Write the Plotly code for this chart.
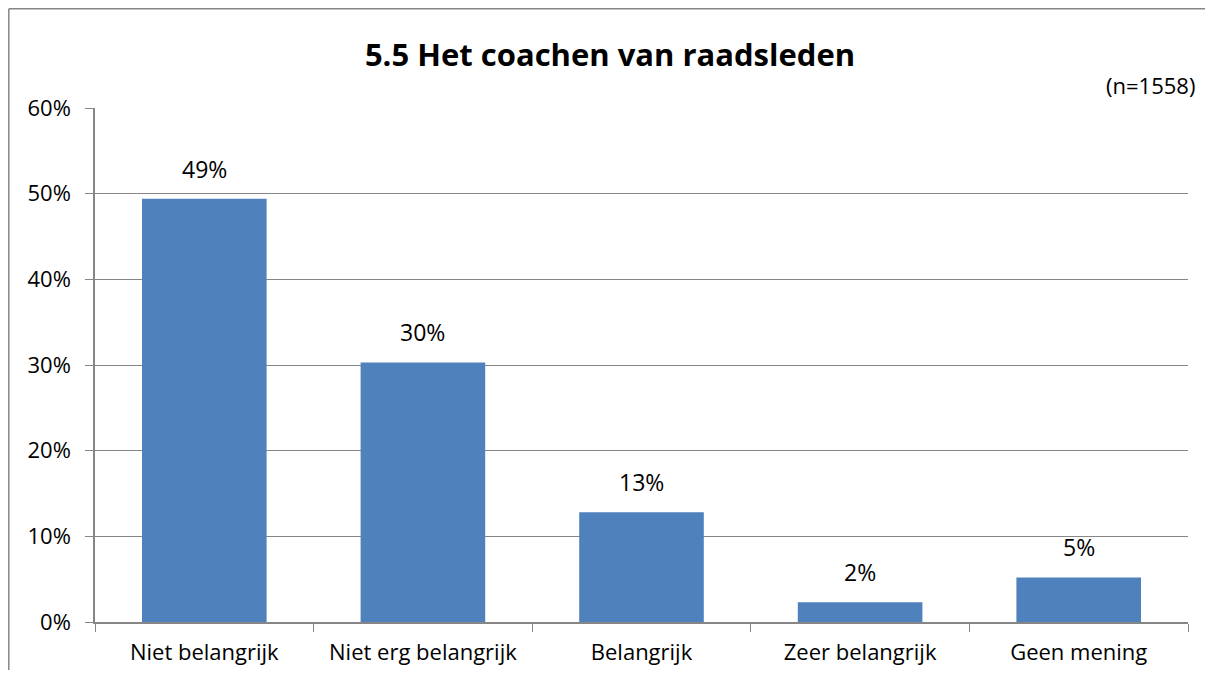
import plotly.graph_objects as go

categories = ["Niet belangrijk", "Niet erg belangrijk", "Belangrijk", "Zeer belangrijk", "Geen mening"]
values = [49.4, 30.3, 12.8, 2.3, 5.2]
labels = ["49%", "30%", "13%", "2%", "5%"]
title_text = "5.5 Het coachen van raadsleden"
note_text = "(n=1558)"

FONT = "Open Sans"
OFF = 8  # page body margin in the browser
W, H = 1213 - 2 * OFF, 684 - 2 * OFF - 6
L, T = 95 - OFF, 108 - OFF
R = W - (1188 - OFF)
B = H - (622 - OFF)
pw, ph = W - L - R, H - T - B

fig = go.Figure()
fig.add_trace(go.Bar(
    x=categories, y=values, width=0.57,
    marker=dict(color="#4F81BD", line=dict(width=0)),
    hoverinfo="skip",
))

for c, v, t in zip(categories, values, labels):
    fig.add_annotation(x=c, y=v, text=t, showarrow=False, yanchor="bottom",
                       yshift=12, font=dict(family=FONT, size=23, color="#000000"))

fig.add_annotation(xref="paper", yref="paper", x=(1197 - 95) / pw, y=(622 - 85) / ph,
                   xanchor="right", yanchor="middle", showarrow=False, text=note_text,
                   font=dict(family=FONT, size=22, color="#000000"))

# outer border (only left and top edges are visible in the frame)
bx = (OFF + 0.8 - 95) / pw
by = (622 - OFF - 0.8) / ph
fig.add_shape(type="line", xref="paper", yref="paper", x0=bx, x1=bx,
              y0=by, y1=(622 - 700) / ph, line=dict(color="#868686", width=1.5), layer="below")
fig.add_shape(type="line", xref="paper", yref="paper", x0=bx, x1=(1240 - 95) / pw,
              y0=by, y1=by, line=dict(color="#868686", width=1.5), layer="below")

fig.update_layout(
    width=W, height=H,
    margin=dict(l=L, r=R, t=T, b=B, autoexpand=False),
    paper_bgcolor="white", plot_bgcolor="white",
    showlegend=False,
    title=dict(text=title_text, x=(610 - OFF) / W, xref="container", xanchor="center",
               y=1 - (55 - OFF) / H, yref="container", yanchor="middle",
               font=dict(family=FONT, size=31, color="#000000", weight="bold")),
)
fig.update_yaxes(range=[0, 60], dtick=10, ticksuffix="%", showgrid=True,
                 gridcolor="#868686", gridwidth=1, showline=True, linecolor="#868686",
                 linewidth=1.5, ticks="outside", ticklen=8, tickcolor="#868686",
                 ticklabelstandoff=10,
                 tickfont=dict(family=FONT, size=22, color="#000000"), zeroline=False,
                 fixedrange=True)
fig.update_xaxes(showline=True, linecolor="#868686", linewidth=1.5, ticks="outside",
                 tickson="boundaries", ticklen=8, tickcolor="#868686",
                 ticklabelstandoff=10,
                 tickfont=dict(family=FONT, size=22, color="#000000"), fixedrange=True)

fig.write_html("out.html")
